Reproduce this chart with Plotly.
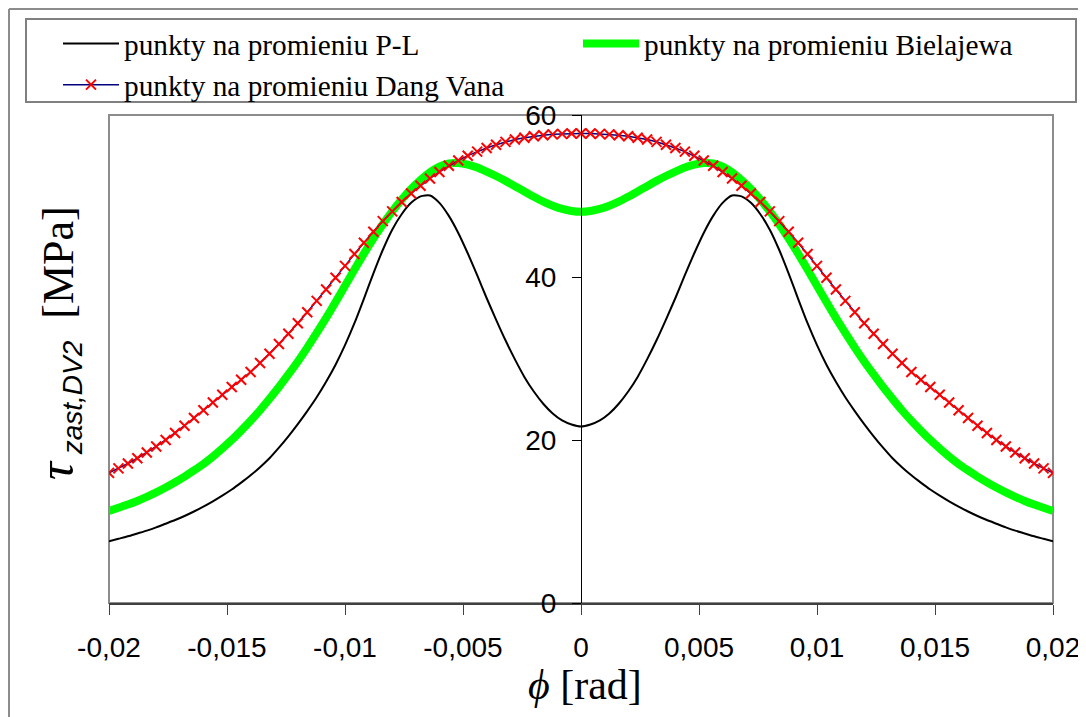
import plotly.graph_objects as go

phi = [-0.0200, -0.0196, -0.0192, -0.0188, -0.0184, -0.0180, -0.0176, -0.0172, -0.0168, -0.0164,
       -0.0160, -0.0156, -0.0152, -0.0148, -0.0144, -0.0140, -0.0136, -0.0132, -0.0128, -0.0124,
       -0.0120, -0.0116, -0.0112, -0.0108, -0.0104, -0.0100, -0.0096, -0.0092, -0.0088, -0.0084,
       -0.0080, -0.0076, -0.0072, -0.0068, -0.0064, -0.0060, -0.0056, -0.0052, -0.0048, -0.0044,
       -0.0040, -0.0036, -0.0032, -0.0028, -0.0024, -0.0020, -0.0016, -0.0012, -0.0008, -0.0004,
       0.0,
       0.0004, 0.0008, 0.0012, 0.0016, 0.0020, 0.0024, 0.0028, 0.0032, 0.0036, 0.0040,
       0.0044, 0.0048, 0.0052, 0.0056, 0.0060, 0.0064, 0.0068, 0.0072, 0.0076, 0.0080,
       0.0084, 0.0088, 0.0092, 0.0096, 0.0100, 0.0104, 0.0108, 0.0112, 0.0116, 0.0120,
       0.0124, 0.0128, 0.0132, 0.0136, 0.0140, 0.0144, 0.0148, 0.0152, 0.0156, 0.0160,
       0.0164, 0.0168, 0.0172, 0.0176, 0.0180, 0.0184, 0.0188, 0.0192, 0.0196, 0.0200]

tau_pl = [7.6, 7.9, 8.2, 8.55, 8.9, 9.3, 9.75, 10.2, 10.7, 11.25,
          11.85, 12.5, 13.2, 13.95, 14.8, 15.7, 16.7, 17.8, 19.1, 20.5,
          22.0, 23.6, 25.3, 27.2, 29.3, 31.7, 34.4, 37.4, 40.5, 43.4,
          45.9, 47.8, 49.2, 50.0, 50.1, 49.2, 47.6, 45.5, 43.0, 40.3,
          37.5, 34.85, 32.3, 29.95, 27.8, 26.0, 24.5, 23.3, 22.45, 21.95,
          21.7,
          21.95, 22.45, 23.3, 24.5, 26.0, 27.8, 29.95, 32.3, 34.85, 37.5,
          40.3, 43.0, 45.5, 47.6, 49.2, 50.1, 50.0, 49.2, 47.8, 45.9,
          43.4, 40.5, 37.4, 34.4, 31.7, 29.3, 27.2, 25.3, 23.6, 22.0,
          20.5, 19.1, 17.8, 16.7, 15.7, 14.8, 13.95, 13.2, 12.5, 11.85,
          11.25, 10.7, 10.2, 9.75, 9.3, 8.9, 8.55, 8.2, 7.9, 7.6]

tau_biel = [11.3, 11.7, 12.1, 12.55, 13.05, 13.6, 14.2, 14.85, 15.55, 16.3,
            17.1, 18.0, 19.0, 20.05, 21.2, 22.4, 23.7, 25.1, 26.55, 28.1,
            29.7, 31.4, 33.2, 35.05, 37.0, 39.0, 41.0, 42.95, 44.8, 46.55,
            48.15, 49.6, 50.9, 52.0, 52.95, 53.65, 54.05, 54.1, 53.9, 53.55,
            53.05, 52.5, 51.9, 51.25, 50.6, 49.95, 49.35, 48.85, 48.45, 48.2,
            48.1,
            48.2, 48.45, 48.85, 49.35, 49.95, 50.6, 51.25, 51.9, 52.5, 53.05,
            53.55, 53.9, 54.1, 54.05, 53.65, 52.95, 52.0, 50.9, 49.6, 48.15,
            46.55, 44.8, 42.95, 41.0, 39.0, 37.0, 35.05, 33.2, 31.4, 29.7,
            28.1, 26.55, 25.1, 23.7, 22.4, 21.2, 20.05, 19.0, 18.0, 17.1,
            16.3, 15.55, 14.85, 14.2, 13.6, 13.05, 12.55, 12.1, 11.7, 11.3]

tau_dv = [16.0, 16.55, 17.15, 17.8, 18.5, 19.25, 20.05, 20.9, 21.8, 22.75,
          23.7, 24.65, 25.6, 26.55, 27.45, 28.4, 29.5, 30.65, 31.85, 33.1,
          34.4, 35.75, 37.15, 38.55, 40.0, 41.45, 42.9, 44.3, 45.65, 46.95,
          48.15, 49.3, 50.35, 51.3, 52.2, 53.0, 53.75, 54.4, 55.0, 55.5,
          55.95, 56.35, 56.7, 56.98, 57.2, 57.38, 57.52, 57.62, 57.68, 57.72,
          57.73,
          57.72, 57.68, 57.62, 57.52, 57.38, 57.2, 56.98, 56.7, 56.35, 55.95,
          55.5, 55.0, 54.4, 53.75, 53.0, 52.2, 51.3, 50.35, 49.3, 48.15,
          46.95, 45.65, 44.3, 42.9, 41.45, 40.0, 38.55, 37.15, 35.75, 34.4,
          33.1, 31.85, 30.65, 29.5, 28.4, 27.45, 26.55, 25.6, 24.65, 23.7,
          22.75, 21.8, 20.9, 20.05, 19.25, 18.5, 17.8, 17.15, 16.55, 16.0]

series_names = ["punkty na promieniu P-L", "punkty na promieniu Bielajewa",
                "punkty na promieniu Dang Vana"]

x_tickvals = [-0.02, -0.015, -0.01, -0.005, 0, 0.005, 0.01, 0.015, 0.02]
x_ticktext = ["-0,02", "-0,015", "-0,01", "-0,005", "0", "0,005", "0,01", "0,015", "0,02"]
y_tickvals = [0, 20, 40, 60]
y_ticktext = ["0", "20", "40", "60"]

# the page body adds an 8 px offset; target positions below are window pixels
OFF = 8
W, H = 1140, 712
L, T = 101, 107
PW, PH = 944, 488
R = W - L - PW
B = H - T - PH


def px(sx):
    return (sx - OFF - L) / PW


def py(sy):
    return (T + PH - (sy - OFF)) / PH


fig = go.Figure()
fig.add_trace(go.Scatter(x=phi, y=tau_pl, mode="lines", name=series_names[0],
                         line=dict(color="#000000", width=2, shape="spline", smoothing=0.6)))
fig.add_trace(go.Scatter(x=phi, y=tau_biel, mode="lines", name=series_names[1],
                         line=dict(color="#00FF00", width=8, shape="spline", smoothing=0.6)))
fig.add_trace(go.Scatter(x=phi, y=tau_dv, mode="lines+markers", name=series_names[2],
                         line=dict(color="#000080", width=1.5),
                         marker=dict(symbol="x-thin", size=10, color="#FF0000",
                                     line=dict(color="#FF0000", width=2))))

fig.update_layout(
    width=W, height=H,
    margin=dict(l=L, r=R, t=T, b=B, autoexpand=False),
    paper_bgcolor="white",
    plot_bgcolor="rgba(0,0,0,0)",
    separators=", ",
    showlegend=True,
    legend=dict(
        orientation="h",
        x=px(58), y=py(18), xanchor="left", yanchor="top",
        xref="paper", yref="paper",
        entrywidth=449, entrywidthmode="pixels",
        itemwidth=56,
        font=dict(family="Liberation Serif, Times New Roman, serif", size=29.3, color="black"),
        bgcolor="rgba(0,0,0,0)", borderwidth=0,
        tracegroupgap=0,
    ),
    xaxis=dict(
        range=[-0.02, 0.02], tickvals=x_tickvals, ticktext=x_ticktext,
        ticks="outside", ticklen=10, tickwidth=1, tickcolor="#404040",
        showline=True, linecolor="#404040", linewidth=2,
        showgrid=False, zeroline=False, automargin=False,
        tickfont=dict(family="Liberation Sans, Arial, sans-serif", size=28, color="black"),
        ticklabelstandoff=8,
    ),
    yaxis=dict(
        range=[0, 60], tickvals=y_tickvals, ticktext=y_ticktext,
        anchor="free", position=0.5, side="left",
        ticks="outside", ticklen=9, tickwidth=1, tickcolor="black",
        showline=True, linecolor="black", linewidth=1,
        showgrid=False, zeroline=False, automargin=False,
        tickfont=dict(family="Liberation Sans, Arial, sans-serif", size=28, color="black"),
        ticklabelstandoff=10,
    ),
)

shapes = [
    # plot-area frame
    dict(type="rect", xref="paper", yref="paper", x0=0, x1=1, y0=0, y1=1,
         line=dict(color="#8c8c8c", width=2), layer="below"),
    # legend box
    dict(type="rect", xref="paper", yref="paper", x0=px(26), x1=px(1076), y0=py(102), y1=py(19),
         line=dict(color="#808080", width=2), fillcolor="white", layer="below"),
    # chart outer border (left and top)
    dict(type="line", xref="paper", yref="paper", x0=px(9), x1=px(9), y0=py(9), y1=py(OFF + H),
         line=dict(color="#8c8c8c", width=2)),
    dict(type="line", xref="paper", yref="paper", x0=px(9), x1=px(OFF + W), y0=py(9), y1=py(9),
         line=dict(color="#8c8c8c", width=2)),
]
fig.update_layout(shapes=shapes)

ytitle = ("<span style='font-size:50px'><i>τ</i></span>"
          "<sub><span style='font-family:Liberation Sans, Arial, sans-serif;font-size:28px'><i> zast,DV2</i></span></sub>"
          "<span style='font-size:44px'>  [MPa]</span>")
xtitle = "<i>ϕ</i> [rad]"

fig.add_annotation(text=ytitle, xref="paper", yref="paper", x=px(58), y=py(343),
                   xanchor="center", yanchor="middle", textangle=-90, showarrow=False,
                   font=dict(family="Liberation Serif, Times New Roman, serif", size=44, color="black"))
fig.add_annotation(text=xtitle, xref="paper", yref="paper", x=px(585), y=py(685),
                   xanchor="center", yanchor="middle", showarrow=False,
                   font=dict(family="Liberation Serif, Times New Roman, serif", size=42, color="black"))

fig.write_html("out.html")
